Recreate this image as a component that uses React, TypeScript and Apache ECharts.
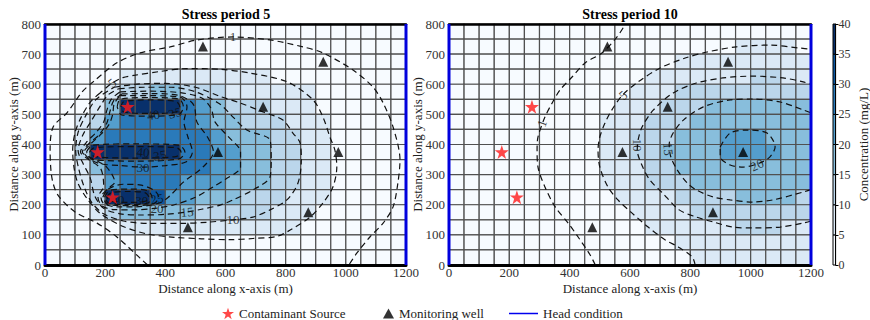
import React, { useEffect, useRef } from "react";
import * as echarts from "echarts";

const FONT = '"Liberation Serif", "DejaVu Serif", serif';
const CELL = 50;
const Y_MAX = 800;
const colorbarLevels = [0, 5, 10, 15, 20, 25, 30, 35, 40];
// Blues colormap sampled at each level band (band i -> i/7)
const bandColors = ["#f7fbff", "#dbe9f6", "#bbd6eb", "#88bedc", "#549ecd", "#2a7aba", "#0c56a0", "#08306b"];

// Concentration per 50 m cell, rows from top (y 750-800) to bottom (y 0-50), columns x 0..1150
const sp5Rows: number[][] = [
  [0.1, 0.15, 0.2, 0.3, 0.4, 0.5, 0.6, 0.7, 0.8, 0.85, 0.9, 0.9, 0.9, 0.9, 0.85, 0.8, 0.7, 0.6, 0.5, 0.4, 0.3, 0.2, 0.15, 0.1],
  [0.2, 0.3, 0.4, 0.5, 0.6, 0.75, 0.85, 0.95, 1.1, 1.3, 1.4, 1.5, 1.5, 1.4, 1.3, 1.2, 1.05, 0.95, 0.8, 0.65, 0.5, 0.35, 0.25, 0.15],
  [0.3, 0.5, 0.7, 0.9, 1.1, 1.6, 2.3, 3.0, 3.5, 3.8, 4.0, 4.0, 3.9, 3.6, 3.2, 2.7, 2.1, 1.5, 1.0, 0.7, 0.5, 0.35, 0.25, 0.15],
  [0.4, 0.6, 0.9, 1.5, 3.0, 5.5, 7.5, 9.0, 9.5, 9.5, 9.2, 8.7, 8.0, 7.0, 5.8, 4.6, 3.6, 2.7, 1.9, 1.3, 1.0, 0.7, 0.45, 0.3],
  [0.3, 0.6, 1.5, 4.0, 8.0, 12, 14, 15.5, 15.5, 14, 12.5, 10.3, 9.3, 8.6, 7.9, 7.1, 6.3, 5.3, 4.2, 3.0, 2.0, 1.4, 0.9, 0.6],
  [0.4, 1.0, 2.5, 6.0, 15, 45, 45, 45, 45, 28, 22, 17, 14.5, 13, 11, 9.5, 8.5, 6.5, 4.5, 3.0, 2.0, 1.3, 0.95, 0.6],
  [0.8, 1.8, 5.0, 12, 22, 28, 29, 29, 28, 27, 23, 19, 16, 14, 12, 10.5, 9.0, 7.0, 5.2, 3.5, 2.4, 1.6, 1.1, 0.75],
  [1.0, 2.5, 8.0, 20, 27, 29, 29, 29, 29, 28, 26, 22, 19, 16.5, 15, 12.5, 10.5, 8.3, 6.2, 4.3, 2.8, 1.8, 1.25, 0.95],
  [1.1, 3.0, 12, 45, 45, 45, 45, 45, 45, 29, 27, 24, 21, 19, 16.5, 14, 11.5, 9.0, 7.0, 4.8, 3.2, 2.0, 1.4, 1.05],
  [1.0, 2.5, 7.0, 18, 27, 29, 28.5, 28, 28, 27, 25, 23, 21, 19, 16, 13.5, 12, 9.5, 7.0, 4.8, 3.1, 1.9, 1.35, 1.05],
  [0.9, 1.8, 5.0, 12, 22, 28, 28, 27, 26, 24, 22, 20, 18, 16.5, 15, 12.5, 10.5, 8.2, 6.0, 4.0, 2.6, 1.6, 1.2, 1.0],
  [0.4, 1.2, 3.5, 10, 45, 45, 42, 30, 24, 21, 19, 17.5, 15.5, 14, 13, 11, 9.0, 7.0, 5.0, 3.4, 2.2, 1.5, 1.2, 0.9],
  [0.3, 0.8, 2.0, 5.0, 12, 17, 18, 17, 16, 15, 14, 13, 12, 11, 10, 9.0, 7.8, 6.3, 4.5, 3.0, 2.0, 1.4, 1.1, 0.8],
  [0.2, 0.4, 0.7, 1.1, 3.0, 5.5, 7.0, 8.0, 8.5, 9.0, 9.0, 9.0, 8.8, 8.3, 7.5, 6.5, 5.5, 4.5, 3.3, 2.3, 1.7, 1.3, 0.95, 0.6],
  [0.1, 0.2, 0.3, 0.5, 0.8, 1.3, 2.0, 2.8, 3.4, 3.9, 4.3, 4.5, 4.6, 4.5, 4.3, 3.9, 3.4, 2.8, 2.2, 1.6, 1.2, 0.9, 0.6, 0.4],
  [0.05, 0.1, 0.2, 0.3, 0.5, 0.75, 1.0, 1.4, 1.8, 2.1, 2.4, 2.6, 2.7, 2.7, 2.6, 2.4, 2.1, 1.8, 1.5, 1.2, 1.0, 0.7, 0.5, 0.3],
];

const sp10Rows: number[][] = [
  [0.05, 0.05, 0.05, 0.1, 0.1, 0.15, 0.2, 0.3, 0.45, 0.6, 0.8, 1.0, 1.3, 1.6, 2.0, 2.4, 2.8, 3.1, 3.4, 3.6, 3.8, 3.9, 3.9, 3.9],
  [0.05, 0.05, 0.1, 0.1, 0.15, 0.2, 0.3, 0.45, 0.6, 0.8, 1.05, 1.4, 1.8, 2.3, 2.8, 3.3, 3.8, 4.3, 4.7, 5.0, 5.1, 5.1, 5.0, 4.9],
  [0.05, 0.1, 0.1, 0.15, 0.2, 0.3, 0.45, 0.65, 0.9, 1.2, 1.6, 2.1, 2.7, 3.6, 4.6, 5.4, 6.0, 6.6, 7.1, 7.5, 7.7, 7.7, 7.5, 7.3],
  [0.1, 0.1, 0.15, 0.2, 0.3, 0.45, 0.6, 0.8, 1.1, 1.5, 2.3, 3.3, 4.5, 5.6, 6.5, 7.3, 8.1, 8.8, 9.3, 9.7, 10.0, 10.0, 9.8, 9.5],
  [0.1, 0.15, 0.2, 0.3, 0.45, 0.6, 0.8, 1.1, 1.6, 2.3, 3.2, 4.4, 5.7, 7.8, 9.6, 11.0, 12.0, 12.8, 13.5, 14.0, 14.4, 14.5, 14.3, 13.9],
  [0.15, 0.2, 0.3, 0.4, 0.6, 0.8, 1.0, 1.5, 2.2, 3.2, 4.5, 6.0, 7.6, 9.3, 11.0, 12.6, 14.2, 15.4, 16.3, 16.8, 17.0, 16.8, 16.2, 15.3],
  [0.2, 0.25, 0.35, 0.5, 0.7, 0.9, 1.2, 1.8, 2.7, 4.0, 5.6, 7.4, 9.2, 11.0, 12.8, 14.6, 16.2, 17.5, 18.5, 19.2, 19.5, 19.3, 18.8, 18.0],
  [0.2, 0.3, 0.4, 0.55, 0.8, 1.0, 1.3, 2.0, 3.0, 4.5, 6.3, 8.3, 10.3, 12.3, 14.6, 16.5, 18.2, 19.4, 20.3, 20.9, 21.0, 19.9, 19.2, 18.4],
  [0.2, 0.3, 0.4, 0.55, 0.8, 1.0, 1.35, 2.1, 3.2, 4.8, 6.6, 8.6, 10.6, 12.7, 15.1, 17.0, 18.6, 19.8, 20.7, 21.3, 21.3, 20.6, 19.6, 18.6],
  [0.2, 0.25, 0.35, 0.5, 0.7, 0.95, 1.2, 1.9, 2.9, 4.4, 6.1, 8.0, 9.9, 11.8, 13.8, 15.4, 17.0, 18.2, 19.1, 19.7, 19.7, 19.2, 18.4, 17.5],
  [0.15, 0.2, 0.3, 0.4, 0.55, 0.75, 0.95, 1.5, 2.4, 3.7, 5.3, 7.1, 8.8, 10.4, 12.1, 14.4, 15.8, 16.6, 17.2, 17.7, 17.8, 17.5, 16.9, 16.2],
  [0.1, 0.15, 0.2, 0.3, 0.4, 0.55, 0.9, 1.2, 1.7, 2.5, 3.6, 5.0, 6.5, 8.0, 9.5, 11.0, 12.5, 13.8, 14.8, 15.4, 15.6, 15.4, 15.0, 14.6],
  [0.05, 0.1, 0.15, 0.2, 0.3, 0.4, 0.55, 0.75, 1.1, 1.8, 2.8, 3.9, 5.1, 6.4, 8.4, 9.9, 11.0, 11.6, 12.0, 12.5, 12.6, 12.5, 12.3, 12.0],
  [0.05, 0.05, 0.1, 0.15, 0.2, 0.3, 0.4, 0.55, 0.85, 1.3, 2.0, 2.9, 3.9, 5.0, 6.1, 7.2, 8.3, 9.2, 9.8, 10.1, 10.1, 10.0, 9.9, 9.7],
  [0.03, 0.05, 0.08, 0.1, 0.15, 0.2, 0.3, 0.55, 0.85, 1.2, 1.5, 2.2, 3.0, 3.9, 4.9, 5.8, 6.6, 7.3, 7.8, 8.0, 8.1, 8.0, 7.9, 7.7],
  [0.02, 0.03, 0.05, 0.08, 0.1, 0.15, 0.2, 0.3, 0.5, 0.8, 1.2, 1.7, 2.3, 3.0, 3.8, 4.6, 5.3, 5.9, 6.3, 6.6, 6.7, 6.7, 6.6, 6.4],
];

const sources: number[][] = [[175, 375], [275, 525], [225, 225]];
const wells: number[][] = [[525, 725], [925, 675], [725, 525], [575, 375], [975, 375], [875, 175], [475, 125]];

// Contour lines (data coordinates, m), stress period 5
const sp5C1 = [[341, 0], [316, 23], [239, 93], [173, 139], [100, 176], [43, 232], [23, 289], [17, 382], [27, 458], [73, 505], [123, 574], [160, 608], [239, 671], [316, 704], [416, 724], [505, 747], [625, 757], [748, 747], [858, 724], [924, 704], [1024, 647], [1090, 591], [1124, 538], [1157, 458], [1180, 349], [1173, 272], [1157, 193], [1124, 139], [1080, 93], [1037, 40], [1010, 0]];
const sp5C5 = [[183, 571], [150, 540], [120, 490], [100, 440], [92, 380], [97, 320], [110, 270], [140, 220], [185, 170], [260, 128], [340, 103], [430, 92], [520, 87], [615, 84], [691, 88], [771, 95], [815, 116], [881, 159], [924, 206], [957, 259], [970, 325], [964, 380], [947, 425], [924, 491], [891, 548], [805, 608], [681, 637], [581, 650], [470, 652], [380, 642], [300, 630], [259, 622], [223, 604], [183, 571]];
const sp5C10 = [[230, 590], [300, 600], [400, 603], [500, 590], [581, 560], [648, 538], [725, 508], [791, 481], [824, 438], [848, 405], [852, 349], [841, 272], [804, 216], [748, 183], [691, 159], [625, 150], [540, 142], [450, 138], [350, 138], [260, 146], [195, 170], [155, 208], [130, 260], [112, 320], [102, 380], [110, 440], [135, 495], [170, 550], [230, 590]];
const sp5C15 = [[245, 585], [330, 590], [420, 590], [500, 575], [580, 535], [625, 491], [671, 448], [748, 415], [752, 350], [748, 292], [691, 249], [625, 216], [582, 199], [520, 185], [472, 176], [400, 168], [320, 166], [250, 170], [195, 188], [165, 230], [150, 290], [125, 340], [110, 380], [125, 430], [155, 480], [185, 530], [210, 565], [245, 585]];
const sp5C20 = [[250, 575], [350, 577], [450, 572], [520, 555], [552, 520], [565, 475], [610, 425], [650, 375], [650, 325], [600, 285], [560, 260], [500, 225], [430, 200], [372, 189], [300, 183], [230, 184], [190, 196], [176, 225], [195, 262], [185, 320], [145, 350], [118, 375], [140, 410], [170, 440], [195, 475], [206, 515], [220, 550], [250, 575]];
const sp5C25 = [[255, 568], [350, 569], [440, 564], [482, 545], [497, 525], [505, 475], [540, 425], [560, 375], [525, 325], [460, 275], [410, 225], [378, 205], [300, 193], [240, 193], [196, 203], [186, 225], [215, 258], [232, 275], [205, 325], [165, 350], [124, 375], [148, 405], [178, 430], [205, 470], [216, 510], [228, 545], [255, 568]];
const sp5C30a = [[250, 562], [350, 562], [450, 557], [472, 525], [462, 475], [475, 425], [490, 375], [468, 342], [400, 330], [326, 325], [250, 330], [185, 336], [148, 352], [130, 375], [152, 402], [182, 430], [212, 465], [225, 500], [230, 535], [250, 562]];
const sp5C30b = [[192, 225], [210, 252], [260, 268], [320, 265], [365, 246], [378, 225], [360, 203], [280, 197], [210, 200], [192, 225]];
const sp5C35a = [[240, 525], [250, 550], [350, 556], [445, 551], [460, 525], [445, 500], [350, 494], [255, 498], [240, 525]];
const sp5C35b = [[138, 375], [158, 398], [300, 402], [445, 398], [465, 375], [445, 352], [300, 345], [158, 350], [138, 375]];
const sp5C35c = [[198, 225], [214, 247], [280, 252], [340, 247], [356, 225], [340, 205], [280, 201], [214, 204], [198, 225]];
const sp5C40a = [[252, 525], [262, 542], [350, 548], [435, 543], [448, 525], [435, 508], [350, 503], [262, 508], [252, 525]];
const sp5C40b = [[148, 375], [165, 390], [300, 393], [435, 390], [452, 375], [435, 360], [300, 355], [165, 360], [148, 375]];
const sp5C40c = [[205, 225], [220, 240], [280, 244], [332, 240], [345, 225], [332, 211], [280, 208], [220, 211], [205, 225]];

// Contour lines, stress period 10
const sp10C1 = [[485, 0], [468, 33], [428, 93], [395, 139], [352, 193], [318, 259], [295, 325], [292, 382], [295, 425], [318, 491], [342, 538], [368, 581], [408, 624], [450, 670], [507, 704], [557, 757], [585, 800]];
const sp10C5 = [[816, 0], [806, 27], [760, 60], [717, 83], [660, 126], [606, 173], [560, 216], [527, 259], [500, 325], [494, 382], [500, 425], [517, 471], [540, 515], [575, 564], [627, 608], [700, 654], [783, 687], [855, 707], [952, 724], [1064, 730], [1164, 720], [1200, 716]];
const sp10C10 = [[1200, 146], [1174, 139], [1098, 126], [1007, 123], [941, 126], [875, 143], [820, 159], [763, 183], [708, 239], [666, 282], [640, 330], [624, 382], [628, 420], [640, 458], [677, 514], [743, 571], [820, 604], [908, 621], [1007, 627], [1107, 621], [1174, 608], [1200, 600]];
const sp10C15 = [[1200, 250], [1174, 242], [1073, 216], [1007, 209], [932, 216], [875, 226], [820, 249], [790, 272], [757, 315], [735, 360], [730, 400], [743, 438], [777, 481], [843, 525], [932, 548], [1007, 551], [1098, 541], [1174, 515], [1200, 505]];
const sp10C20 = [[899, 392], [932, 438], [988, 448], [1054, 438], [1081, 392], [1064, 359], [1031, 339], [975, 325], [932, 332], [899, 359], [899, 392]];

// Contour labels [x, y, text]
const sp5Labels: [number, number, string][] = [
  [625, 757, "1"], [223, 604, "5"], [360, 498, "40"], [432, 505, "35"], [326, 374, "40"], [382, 364, "35"],
  [326, 325, "30"], [243, 216, "40"], [322, 214, "30"], [372, 220, "25"], [372, 189, "20"], [472, 176, "15"], [625, 150, "10"],
];
const sp5LabelAngles = [0, 40, 10, 15, -5, 10, 0, 0, 0, 10, 0, 5, 0];
const sp10Labels: [number, number, string][] = [
  [308, 470, "1"], [577, 564, "5"], [624, 398, "10"], [727, 385, "15"], [1021, 332, "20"],
];
const sp10LabelAngles = [70, 40, -90, -85, 25];

const STAR = "path://M12,0 L14.9,8.6 L24,8.6 L16.6,14 L19.4,22.8 L12,17.4 L4.6,22.8 L7.4,14 L0,8.6 L9.1,8.6 Z";

function cellData(rows: number[][]) {
  const out: number[][] = [];
  rows.forEach((row, r) => row.forEach((v, c) => out.push([c * CELL, Y_MAX - (r + 1) * CELL, v])));
  return out;
}

const cellItem = (params: any, api: any) => {
  const x0 = api.value(0);
  const y0 = api.value(1);
  const p1 = api.coord([x0, y0 + CELL]);
  const p2 = api.coord([x0 + CELL, y0]);
  return {
    type: "rect",
    shape: { x: p1[0], y: p1[1], width: p2[0] - p1[0], height: p2[1] - p1[1] },
    style: { fill: api.visual("color"), stroke: "#505050", lineWidth: 1.2 },
  };
};

const bandItem = (params: any, api: any) => {
  const lo = api.value(1);
  const hi = api.value(3);
  const cs = params.coordSys;
  const yTop = api.coord([0, hi])[1];
  const yBot = api.coord([0, lo])[1];
  return {
    type: "rect",
    shape: { x: cs.x, y: yTop, width: cs.width, height: yBot - yTop },
    style: { fill: api.visual("color"), stroke: "#000", lineWidth: 1 },
  };
};

export default function App() {
  const ref = useRef<HTMLDivElement>(null);
  useEffect(() => {
    document.body.style.margin = "0";
    if (!ref.current) return;
    const chart = echarts.init(ref.current, undefined, { renderer: "svg" });

    const axisText = { fontFamily: FONT, fontSize: 13, color: "#333" };
    const plain = (v: number) => String(v);
    const mkX = (gridIndex: number) => ({
      type: "value", gridIndex, min: 0, max: 1200, interval: 200, position: "bottom",
      axisLine: { show: true, lineStyle: { color: "#000", width: 3 } },
      axisTick: { show: false },
      axisLabel: { ...axisText, margin: 1, formatter: plain },
      splitLine: { show: false },
      name: "Distance along x-axis (m)", nameLocation: "middle", nameGap: 17, nameMoveOverlap: false,
      nameTextStyle: { fontFamily: FONT, fontSize: 13, color: "#222" },
      z: 10,
    });
    const mkTop = (gridIndex: number) => ({
      type: "value", gridIndex, min: 0, max: 1200, position: "top",
      axisLine: { show: true, lineStyle: { color: "#000", width: 2.5 } },
      axisTick: { show: false }, axisLabel: { show: false }, splitLine: { show: false }, z: 10,
    });
    const mkY = (gridIndex: number) => ({
      type: "value", gridIndex, min: 0, max: 800, interval: 100,
      axisLine: { show: false }, axisTick: { show: false },
      axisLabel: { ...axisText, margin: 4, formatter: plain },
      splitLine: { show: false },
      name: "Distance along y-axis (m)", nameLocation: "middle", nameGap: 25, nameRotate: 90, nameMoveOverlap: false,
      nameTextStyle: { fontFamily: FONT, fontSize: 13, color: "#222" },
      z: 10,
    });

    const contourSeries = (lines: number[][][], xi: number, yi: number) =>
      lines.map((d) => ({
        type: "line", xAxisIndex: xi, yAxisIndex: yi, data: d, smooth: 0.3,
        symbol: "none", silent: true, z: 4,
        lineStyle: { color: "#111", width: 1.2, type: [6, 4] },
      }));
    const labelSeries = (labels: [number, number, string][], angles: number[], xi: number, yi: number) => ({
      type: "scatter", xAxisIndex: xi, yAxisIndex: yi, symbolSize: 1, silent: true, z: 5,
      itemStyle: { color: "rgba(0,0,0,0)" },
      data: labels.map((l, i) => ({ value: [l[0], l[1]], name: l[2], label: { rotate: angles[i] } })),
      label: { show: true, position: "inside", formatter: "{b}", fontFamily: FONT, fontSize: 13, color: "#111" },
    });
    const headSeries = (xi: number, yi: number) => [
      { type: "line", name: "Head condition", xAxisIndex: xi, yAxisIndex: yi, data: [[0, 0], [0, 800]], symbol: "none", clip: false, z: 11, lineStyle: { color: "#0000dd", width: 3 }, itemStyle: { color: "#0000ee" } },
      { type: "line", name: "Head condition", xAxisIndex: xi, yAxisIndex: yi, data: [[1200, 0], [1200, 800]], symbol: "none", clip: false, z: 11, lineStyle: { color: "#0000dd", width: 3 }, itemStyle: { color: "#0000ee" } },
    ];
    const markerSeries = (xi: number, yi: number) => [
      { type: "scatter", name: "Contaminant Source", xAxisIndex: xi, yAxisIndex: yi, data: sources, symbol: STAR, symbolSize: 14, itemStyle: { color: "#ff1a1a" }, z: 7 },
      { type: "scatter", name: "Monitoring well", xAxisIndex: xi, yAxisIndex: yi, data: wells, symbol: "triangle", symbolSize: 10, itemStyle: { color: "#000" }, z: 7 },
    ];

    const bands = colorbarLevels.slice(0, -1).map((lo, i) => [0, lo, (lo + colorbarLevels[i + 1]) / 2, colorbarLevels[i + 1]]);
    const pieces = bandColors.map((color, i) =>
      i < bandColors.length - 1
        ? { gte: colorbarLevels[i], lt: colorbarLevels[i + 1], color }
        : { gte: colorbarLevels[i], color }
    );

    const legendText = { fontFamily: FONT, fontSize: 13, color: "#222" };

    const option: any = {
      animation: false,
      textStyle: { fontFamily: FONT },
      grid: [
        { left: 45, top: 24, width: 361, height: 241 },
        { left: 449, top: 24, width: 362, height: 241 },
        { left: 833, top: 24, width: 10, height: 241 },
      ],
      xAxis: [mkX(0), mkTop(0), mkX(1), mkTop(1), { type: "category", gridIndex: 2, data: ["c"], show: false }],
      yAxis: [
        mkY(0), mkY(1),
        {
          type: "value", gridIndex: 2, min: 0, max: 40, interval: 5, position: "right",
          axisLine: { show: true, lineStyle: { color: "#000", width: 1.2 } },
          axisTick: { show: true, length: 3, lineStyle: { color: "#000" } },
          axisLabel: { fontFamily: FONT, fontSize: 12, color: "#333", margin: 3 },
          splitLine: { show: false },
          name: "Concentration (mg/L)", nameLocation: "middle", nameRotate: 90, nameGap: 21, nameMoveOverlap: false,
          nameTextStyle: { fontFamily: FONT, fontSize: 13, color: "#222" },
        },
      ],
      visualMap: {
        type: "piecewise", show: false, dimension: 2, seriesIndex: [0, 1, 2], pieces,
      },
      legend: [
        { left: 222, top: 307, padding: 0, itemWidth: 12, itemHeight: 12, textStyle: legendText, data: [{ name: "Contaminant Source", icon: STAR }] },
        { left: 383, top: 307, padding: 0, itemWidth: 11, itemHeight: 10, textStyle: legendText, data: [{ name: "Monitoring well", icon: "triangle" }] },
        { left: 509, top: 307, padding: 0, itemWidth: 29, itemHeight: 1.5, textStyle: legendText, data: [{ name: "Head condition", icon: "rect" }] },
      ],
      graphic: [
        { type: "text", x: 226, y: 14, style: { text: "Stress period 5", font: `bold 14px ${FONT}`, fill: "#000", textAlign: "center", textVerticalAlign: "middle" } },
        { type: "text", x: 630, y: 14, style: { text: "Stress period 10", font: `bold 14px ${FONT}`, fill: "#000", textAlign: "center", textVerticalAlign: "middle" } },
      ],
      series: [
        { type: "custom", xAxisIndex: 0, yAxisIndex: 0, data: cellData(sp5Rows), renderItem: cellItem, encode: { x: 0, y: 1 }, z: 1, silent: true },
        { type: "custom", xAxisIndex: 2, yAxisIndex: 1, data: cellData(sp10Rows), renderItem: cellItem, encode: { x: 0, y: 1 }, z: 1, silent: true },
        { type: "custom", xAxisIndex: 4, yAxisIndex: 2, data: bands, renderItem: bandItem, encode: { x: 0, y: [1, 3] }, z: 1, silent: true },
        ...contourSeries([sp5C1, sp5C5, sp5C10, sp5C15, sp5C20, sp5C25, sp5C30a, sp5C30b, sp5C35a, sp5C35b, sp5C35c, sp5C40a, sp5C40b, sp5C40c], 0, 0),
        ...contourSeries([sp10C1, sp10C5, sp10C10, sp10C15, sp10C20], 2, 1),
        labelSeries(sp5Labels, sp5LabelAngles, 0, 0),
        labelSeries(sp10Labels, sp10LabelAngles, 2, 1),
        ...markerSeries(0, 0),
        ...markerSeries(2, 1),
        ...headSeries(0, 0),
        ...headSeries(2, 1),
      ],
    };
    chart.setOption(option);
    return () => chart.dispose();
  }, []);
  return <div ref={ref} style={{ width: 870, height: 320 }} />;
}
